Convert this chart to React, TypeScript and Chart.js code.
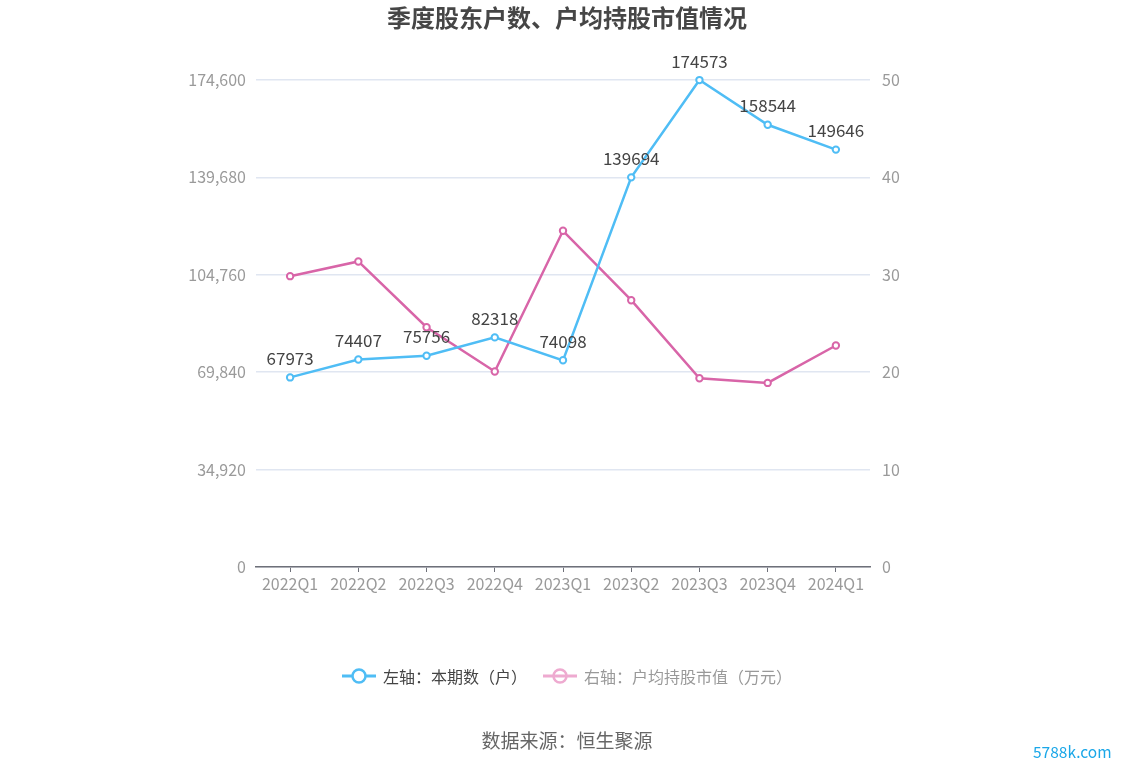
import React, { useEffect, useRef } from "react";
import { Chart, registerables } from "chart.js";

Chart.register(...registerables);

const categories = ["2022Q1", "2022Q2", "2022Q3", "2022Q4", "2023Q1", "2023Q2", "2023Q3", "2023Q4", "2024Q1"];
const holders = [67973, 74407, 75756, 82318, 74098, 139694, 174573, 158544, 149646];
const avgValue = [29.86, 31.37, 24.62, 20.07, 34.52, 27.39, 19.38, 18.9, 22.74];
const leftMax = 174600;
const leftStep = 34920;
const rightMax = 50;
const rightStep = 10;

const TITLE = "季度股东户数、户均持股市值情况";
const LEGEND_LEFT = "左轴：本期数（户）";
const LEGEND_RIGHT = "右轴：户均持股市值（万元）";
const SOURCE = "数据来源：恒生聚源";
const WATERMARK = "5788k.com";

const BLUE = "#4fbdf5";
const PINK = "#d865a8";
const FONT = '"Microsoft YaHei", "Noto Sans CJK SC", "Noto Sans", sans-serif';

const W = 1134;
const H = 766;

const labelPlugin = {
  id: "valueLabels",
  afterDatasetsDraw(chart: any) {
    const ctx = chart.ctx;
    const meta = chart.getDatasetMeta(0);
    ctx.save();
    ctx.font = `17px ${FONT}`;
    ctx.fillStyle = "#444";
    ctx.textAlign = "center";
    ctx.textBaseline = "middle";
    meta.data.forEach((pt: any, i: number) => {
      ctx.fillText(String(holders[i]), pt.x, pt.y - 19);
    });
    ctx.restore();
  },
};

export default function App() {
  const ref = useRef<HTMLCanvasElement>(null);

  useEffect(() => {
    document.body.style.margin = "0";
    const chart = new Chart(ref.current as HTMLCanvasElement, {
      type: "line",
      data: {
        labels: categories,
        datasets: [
          {
            label: LEGEND_LEFT,
            data: holders,
            yAxisID: "y",
            borderColor: BLUE,
            backgroundColor: "#fff",
            borderWidth: 2.5,
            pointRadius: 3.2,
            pointBorderWidth: 2,
            pointBackgroundColor: "#fff",
            pointBorderColor: BLUE,
            tension: 0,
            clip: false,
          },
          {
            label: LEGEND_RIGHT,
            data: avgValue,
            yAxisID: "y1",
            borderColor: PINK,
            backgroundColor: "#fff",
            borderWidth: 2.5,
            pointRadius: 3.2,
            pointBorderWidth: 2,
            pointBackgroundColor: "#fff",
            pointBorderColor: PINK,
            tension: 0,
            clip: false,
          },
        ],
      },
      options: {
        responsive: false,
        animation: false,
        locale: "en-US",
        layout: { padding: { top: 80, left: 0, right: 0, bottom: 0 } },
        plugins: {
          legend: { display: false },
          title: { display: false },
          tooltip: { enabled: false },
        },
        scales: {
          x: {
            type: "category",
            offset: true,
            grid: {
              drawOnChartArea: false,
              offset: false,
              drawTicks: true,
              tickLength: 5,
              color: "#6E7079",
            },
            border: { display: true, color: "#6E7079", width: 1.5 },
            ticks: { color: "#9a9a9a", font: { size: 16, family: FONT }, padding: 2, maxRotation: 0, autoSkip: false },
            afterFit: (s: any) => {
              s.height = H - 567;
            },
          },
          y: {
            position: "left",
            min: 0,
            max: leftMax,
            ticks: { stepSize: leftStep, color: "#9a9a9a", font: { size: 16, family: FONT }, padding: 10 },
            grid: { color: "#E0E6F1", drawTicks: false, lineWidth: 1.5 },
            border: { display: false },
            afterFit: (s: any) => {
              s.width = 256;
            },
          },
          y1: {
            position: "right",
            min: 0,
            max: rightMax,
            ticks: { stepSize: rightStep, color: "#9a9a9a", font: { size: 16, family: FONT }, padding: 12 },
            grid: { drawOnChartArea: false, drawTicks: false },
            border: { display: false },
            afterFit: (s: any) => {
              s.width = W - 870;
            },
          },
        },
      },
      plugins: [labelPlugin],
    } as any);
    return () => chart.destroy();
  }, []);

  const marker = (color: string, ring: string) => (
    <svg width="34" height="18" style={{ display: "block" }}>
      <line x1="0" y1="9" x2="34" y2="9" stroke={color} strokeWidth="3" />
      <circle cx="17" cy="9" r="6.5" fill={ring} stroke={color} strokeWidth="2.5" />
    </svg>
  );

  return (
    <div style={{ position: "relative", width: W, height: H, background: "#fff", overflow: "hidden", fontFamily: FONT }}>
      <canvas ref={ref} width={W} height={H} style={{ position: "absolute", left: 0, top: 0 }} />
      <div
        style={{
          position: "absolute",
          left: 0,
          top: 2,
          width: W,
          textAlign: "center",
          fontSize: 24,
          fontWeight: "bold",
          color: "#464646",
          lineHeight: "30px",
        }}
      >
        {TITLE}
      </div>
      <div
        style={{
          position: "absolute",
          left: 0,
          top: 665,
          width: W,
          display: "flex",
          justifyContent: "center",
          alignItems: "center",
          fontSize: 16,
          lineHeight: "22px",
        }}
      >
        <div style={{ display: "flex", alignItems: "center", marginLeft: 0 }}>
          {marker(BLUE, "#fff")}
          <span style={{ marginLeft: 7, color: "#444" }}>{LEGEND_LEFT}</span>
        </div>
        <div style={{ display: "flex", alignItems: "center", marginLeft: 16 }}>
          {marker("#eeaad0", "none")}
          <span style={{ marginLeft: 7, color: "#999" }}>{LEGEND_RIGHT}</span>
        </div>
      </div>
      <div
        style={{
          position: "absolute",
          left: 0,
          top: 727,
          width: W,
          textAlign: "center",
          fontSize: 19,
          color: "#666",
          lineHeight: "26px",
        }}
      >
        {SOURCE}
      </div>
      <div
        style={{
          position: "absolute",
          left: 1033,
          top: 741,
          fontSize: 15.5,
          color: "#1aa7e8",
          lineHeight: "20px",
        }}
      >
        {WATERMARK}
      </div>
    </div>
  );
}
